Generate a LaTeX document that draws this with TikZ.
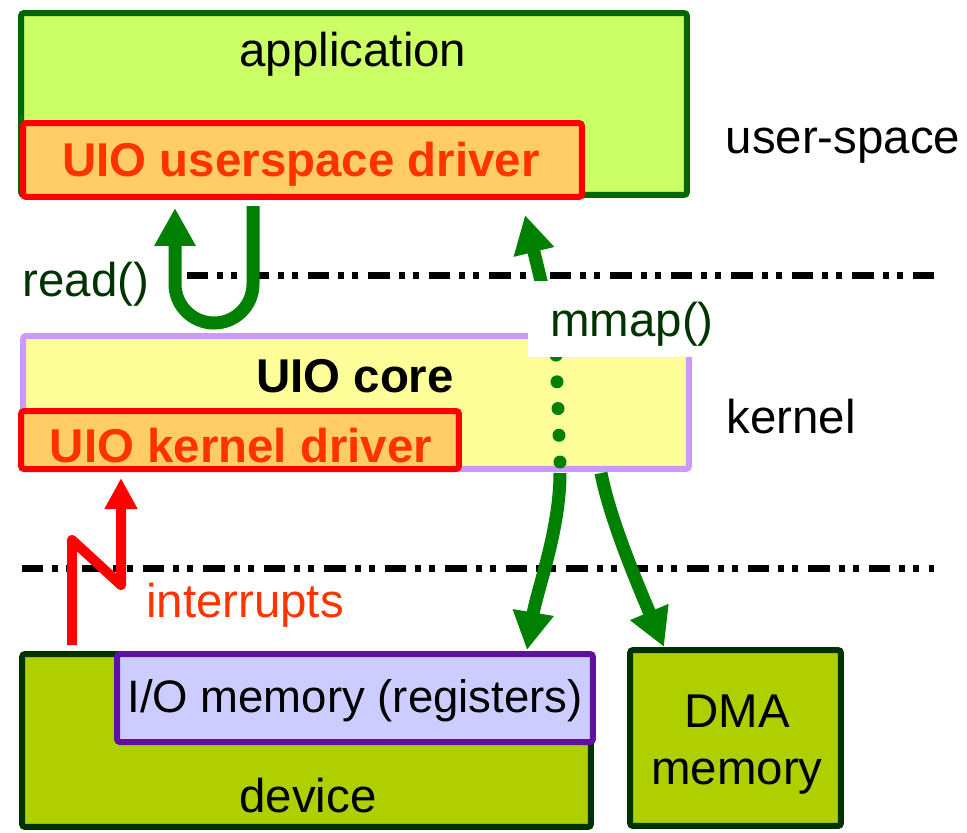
\documentclass[tikz,border=0pt]{standalone}
\usepackage{fontspec}
\setmainfont{Liberation Sans}
\usetikzlibrary{arrows.meta}

\definecolor{appfill}{HTML}{CCFF66}
\definecolor{appdraw}{HTML}{006600}
\definecolor{drvfill}{HTML}{FFCC66}
\definecolor{drvtext}{HTML}{FF3300}
\definecolor{corefill}{HTML}{FFFF99}
\definecolor{coredraw}{HTML}{CC99FF}
\definecolor{devfill}{HTML}{AFCF00}
\definecolor{devdraw}{HTML}{003300}
\definecolor{memfill}{HTML}{CCCCFF}
\definecolor{memdraw}{HTML}{6010A0}
\definecolor{callgreen}{HTML}{008000}
\definecolor{calltext}{HTML}{003300}

\begin{document}
\begin{tikzpicture}[
    x=0.02cm, y=-0.02cm,
    txt/.style={
        font=\fontsize{27}{32.4}\selectfont,
        inner sep=0pt,
        anchor=base
    },
    boldtxt/.style={
        txt,
        font=\fontsize{27}{32.4}\selectfont\bfseries
    },
    box/.style={
        rectangle,
        line width=0.12cm,
        rounded corners=0.06cm,
        inner sep=0pt
    },
    appbox/.style={box, draw=appdraw, fill=appfill},
    drvbox/.style={box, draw=red, fill=drvfill},
    corebox/.style={box, draw=coredraw, fill=corefill},
    devbox/.style={box, draw=devdraw, fill=devfill},
    membox/.style={box, draw=memdraw, fill=memfill},
    layerline/.style={
        line width=0.14cm,
        dash pattern=on 0.43cm off 0.18cm on 0.12cm off 0.16cm on 0.12cm off 0.2cm
    },
    callarrow/.style={
        -{Triangle[width=0.78cm, length=0.76cm]},
        line width=0.26cm,
        draw=callgreen
    },
    irqarrow/.style={
        -{Triangle[width=0.62cm, length=0.62cm]},
        line width=0.2cm,
        draw=red,
        line join=round
    },
    mapdots/.style={
        line width=0.26cm,
        draw=callgreen,
        line cap=round,
        dash pattern=on 0pt off 0.535cm
    }
]

    \useasboundingbox (0,0) rectangle (967,832);

    % --- LAYER BOUNDARIES ---
    \draw[layerline] (187,275) -- (935,275);
    \draw[layerline] (22,568) -- (934,568);

    % --- USER-SPACE (TOP) ---
    \node[appbox, minimum width=13.32cm, minimum height=3.64cm] (app) at (354,104) {};
    \node[drvbox, minimum width=11.18cm, minimum height=1.48cm] (usrdrv) at (302.5,160) {};
    \node[txt] (apptext) at (353,66) {application};
    \node[boldtxt, text=drvtext] (usrdrvtext) at (301,176) {UIO userspace driver};
    \node[txt] (userlabel) at (843,153) {user-space};

    % --- KERNEL (MIDDLE) ---
    \node[corebox, minimum width=13.32cm, minimum height=2.66cm] (core) at (356,402.5) {};
    \node[drvbox, minimum width=8.76cm, minimum height=1.16cm] (kdrv) at (240,440) {};
    \node[boldtxt] (coretext) at (355,392) {UIO core};
    \node[boldtxt, text=drvtext] (kdrvtext) at (241,462) {UIO kernel driver};
    \node[txt] (kernellabel) at (791,433) {kernel};

    % --- HARDWARE (BOTTOM) ---
    \node[devbox, minimum width=11.38cm, minimum height=3.46cm] (dev) at (306.5,740.5) {};
    \node[membox, minimum width=9.52cm, minimum height=1.76cm] (iomem) at (355,698) {};
    \node[devbox, minimum width=4.22cm, minimum height=3.52cm] (dma) at (735.5,738) {};
    \node[txt, font=\fontsize{25.9}{31}\selectfont] (iomemtext) at (355,712) {I/O memory (registers)};
    \node[txt] (devtext) at (308,812) {device};
    \node[txt, anchor=center, align=center] (dmatext) at (737,745) {DMA\\memory};

    % --- read(): kernel back up to the userspace driver ---
    \coordinate (readfrom) at (253,206);
    \coordinate (readtip) at (175,208);
    \draw[callarrow, rounded corners=0.78cm] (readfrom) -- (253,323) -- (175,323) -- (readtip);
    \node[txt, text=calltext] (readlabel) at (86,296) {read()};

    % --- mmap(): memory mapped through the core ---
    \coordinate (mapsplit) at (560,462);
    \coordinate (maptop) at (554,301);
    \coordinate (mapfrom) at (559,355);
    \coordinate (maptip) at (525,215);
    \coordinate (memfrom) at (560,473);
    \coordinate (memtip) at (527,650);
    \coordinate (dmafrom) at (601,473);
    \coordinate (dmatip) at (664,647);
    \draw[mapdots] (mapsplit) -- (maptop);
    \draw[callarrow] (mapfrom) -- (maptip);
    \draw[callarrow] (memfrom) .. controls (560,530) and (537,590) .. (memtip);
    \draw[callarrow] (dmafrom) .. controls (610,520) and (640,590) .. (dmatip);
    \node[fill=white, inner sep=0pt, minimum width=3.76cm, minimum height=1.52cm,
        font=\fontsize{27}{32.4}\selectfont, text=calltext, text depth=0pt] (maplabel) at (622,319) {\hspace{0.4cm}mmap()};

    % --- interrupts: device up to the kernel driver ---
    \coordinate (irqfrom) at (72,645);
    \coordinate (irqtip) at (121,478);
    \draw[irqarrow] (irqfrom) -- (72,540) -- (121,585) -- (irqtip);
    \node[txt, text=drvtext] (irqlabel) at (245,617) {interrupts};

\end{tikzpicture}
\end{document}
